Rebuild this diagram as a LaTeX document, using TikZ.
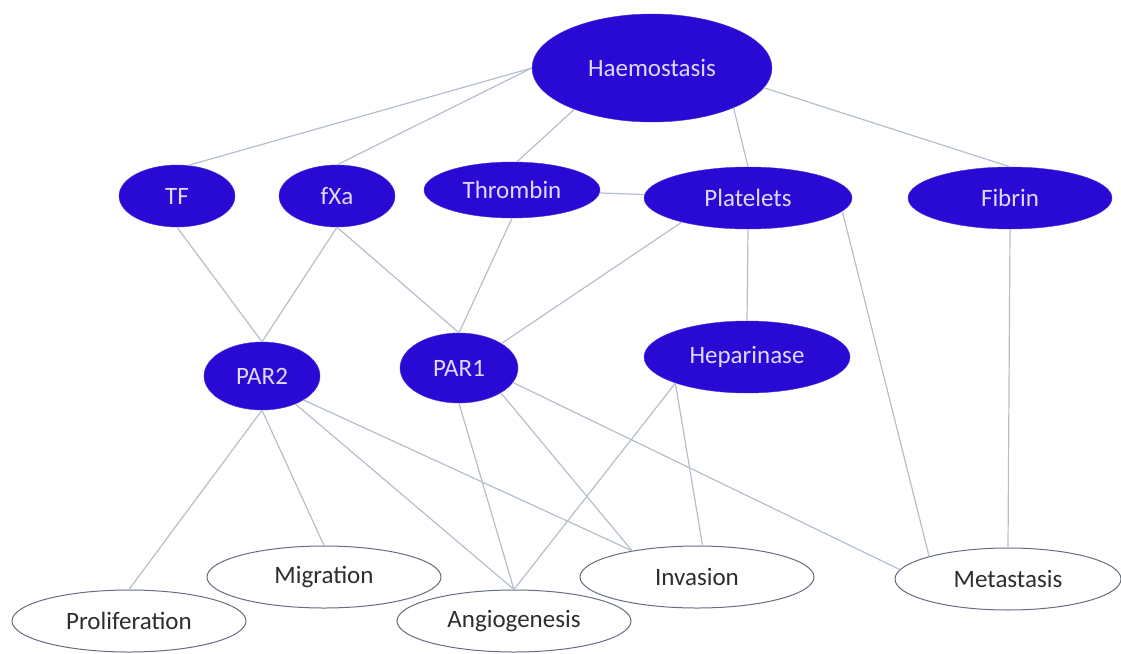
\documentclass[tikz,border=0pt]{standalone}
\usepackage{fontspec}
\setmainfont{Carlito}
\usepackage{tikz}
\usetikzlibrary{shapes.geometric}
\definecolor{nodeblue}{RGB}{40,10,212}
\definecolor{nodetext}{RGB}{225,215,255}
\definecolor{linkgray}{RGB}{180,190,204}
\definecolor{rimgray}{RGB}{100,110,128}
\definecolor{labelgray}{RGB}{45,45,45}

\begin{document}
\begin{tikzpicture}[
  x=1pt, y=-1pt,
  agent/.style={ellipse, fill=nodeblue, draw=nodeblue!85!white, inner sep=0pt, text=nodetext, font=\fontsize{25}{29}\selectfont},
  outcome/.style={ellipse, draw=rimgray, line width=1pt, fill=white, inner sep=0pt, minimum width=234, minimum height=62, text=labelgray, font=\fontsize{25}{29}\selectfont},
  link/.style={draw=linkgray, line width=1.2pt}
]
\useasboundingbox (0,0) rectangle (1121,653);
% filled nodes
\node[agent, minimum width=240, minimum height=108] (haemo) at (652,68) {Haemostasis};
\node[agent, minimum width=116, minimum height=62] (tf) at (177,196) {TF};
\node[agent, minimum width=116, minimum height=62] (fxa) at (337,196) {fXa};
\node[agent, minimum width=176, minimum height=56] (thrombin) at (512,190) {Thrombin};
\node[agent, minimum width=208, minimum height=62] (platelets) at (748,198) {Platelets};
\node[agent, minimum width=204, minimum height=62] (fibrin) at (1010,198) {Fibrin};
\node[agent, minimum width=116, minimum height=68] (par2) at (262,376) {PAR2};
\node[agent, minimum width=118, minimum height=70] (par1) at (459,368) {PAR1};
\node[agent, minimum width=206, minimum height=72] (hepa) at (747,357) {Heparinase};
% outline nodes
\node[outcome] (migration) at (324,577) {Migration};
\node[outcome] (invasion) at (697,577) {Invasion};
\node[outcome, minimum width=226] (metastasis) at (1008,579) {Metastasis};
\node[outcome] (prolif) at (129,621) {Proliferation};
\node[outcome] (angio) at (514,621) {Angiogenesis};
% links from haemostasis
\path[link] (haemo.west) -- (tf.70);
\path[link] (haemo.west) -- (fxa.north);
\path[link] (haemo.208) -- (thrombin.80);
\path[link] (haemo.334) -- (platelets.north);
\path[link] (haemo.350) -- (fibrin.north);
\path[link] (thrombin) -- (platelets);
% links to receptors
\path[link] (tf.south) -- (par2.north);
\path[link] (fxa.south) -- (par2.north);
\path[link] (fxa.south) -- (par1.north);
\path[link] (thrombin.south) -- (par1.north);
\path[link] (platelets.200) -- (par1.30);
\path[link] (platelets.south) -- (hepa.north);
\path[link] (platelets.352) -- (metastasis.164);
\path[link] (fibrin.south) -- (metastasis.north);
% links to outcomes
\path[link] (par2.south) -- (prolif.north);
\path[link] (par2.south) -- (migration.north);
\path[link] (par2.320) -- (angio.north);
\path[link] (par2.330) -- (invasion.158);
\path[link] (par1.south) -- (angio.north);
\path[link] (par1.south east) -- (invasion.158);
\path[link] (par1.345) -- (metastasis.175);
\path[link] (hepa.200) -- (angio.north);
\path[link] (hepa.200) -- (invasion.80);
\end{tikzpicture}
\end{document}
